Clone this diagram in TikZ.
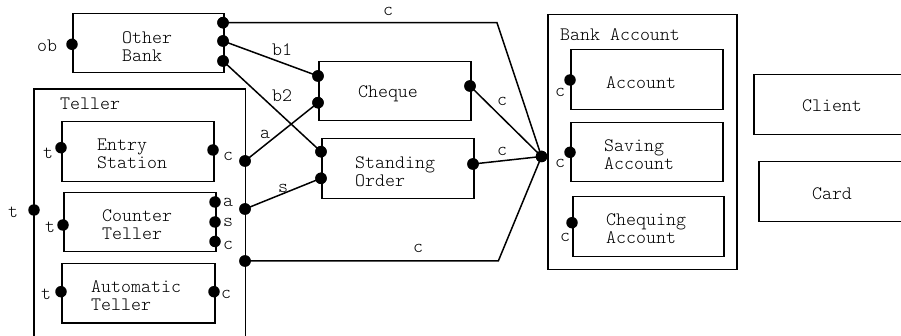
\documentclass[tikz,border=0pt]{standalone}
\usepackage{fontspec}
\setmainfont{Latin Modern Mono Light}
\begin{document}
\begin{tikzpicture}[x=1pt,y=-1pt,
  every node/.style={font=\fontsize{19}{18}\selectfont},
  box/.style={draw,line width=1.5pt,rectangle,inner sep=0pt,anchor=north west},
  port/.style={circle,fill=black,inner sep=0pt,minimum size=11.5pt},
  txt/.style={inner sep=0pt,anchor=west,align=left},
  lbl/.style={inner sep=0pt},
  wire/.style={line width=1.5pt}]
\clip (0,0) rectangle (901,336);
\useasboundingbox (0,0) rectangle (901,336);
% boxes
\node[box,minimum width=151pt,minimum height=59pt] (ob) at (72,13) {};
\node[draw=none,inner sep=0pt,anchor=north west,minimum width=211pt,minimum height=250pt] (teller) at (34,89) {};
\draw[line width=1.5pt] (teller.south west) -- (teller.north west) -- (teller.north east) -- (teller.south east);
\node[box,minimum width=152pt,minimum height=60pt] (es) at (61,121) {};
\node[box,minimum width=152pt,minimum height=59pt] (ct) at (63,192) {};
\node[box,minimum width=153pt,minimum height=59pt] (at) at (61,263) {};
\node[box,minimum width=152pt,minimum height=59pt] (cheque) at (318,61) {};
\node[box,minimum width=152pt,minimum height=60pt] (so) at (321,138) {};
\node[box,minimum width=189pt,minimum height=255pt] (ba) at (547,14) {};
\node[box,minimum width=152pt,minimum height=60pt] (acc) at (570,49) {};
\node[box,minimum width=152pt,minimum height=59pt] (sav) at (570,122) {};
\node[box,minimum width=151pt,minimum height=60pt] (chq) at (572,196) {};
\node[box,minimum width=160pt,minimum height=60pt] (client) at (753,74) {};
\node[box,minimum width=160pt,minimum height=60pt] (card) at (758,161) {};
% texts
\node[txt] (tob) at (122,47) {Other\\Bank};
\node[txt] (tteller) at (60,104) {Teller};
\node[txt] (tes) at (97,154) {Entry\\Station};
\node[txt] (tct) at (102,225) {Counter\\Teller};
\node[txt] (tat) at (91,296) {Automatic\\Teller};
\node[lbl] (tcheque) at (388,94) {Cheque};
\node[txt] (tso) at (355,172) {Standing\\Order};
\node[txt] (tba) at (560,35) {Bank Account};
\node[txt] (tacc) at (606,83) {Account};
\node[txt] (tsav) at (604,155) {Saving\\Account};
\node[txt] (tchq) at (606,229) {Chequing\\Account};
\node[lbl] (tclient) at (832,106) {Client};
\node[lbl] (tcard) at (832,194) {Card};
% ports
\node[port] (obL) at (72,44.3) {};
\node[port] (obC) at (223,22.7) {};
\node[port] (obB1) at (223,41) {};
\node[port] (obB2) at (223,61) {};
\node[port] (tellerT) at (34,210) {};
\node[port] (tellerA) at (245,161) {};
\node[port] (tellerS) at (245,209) {};
\node[port] (tellerC) at (245,261) {};
\node[port] (esT) at (61,147.7) {};
\node[port] (esC) at (213,150) {};
\node[port] (ctT) at (63,225) {};
\node[port] (ctA) at (215,202) {};
\node[port] (ctS) at (215,222) {};
\node[port] (ctC) at (215,241.5) {};
\node[port] (atT) at (61,291.7) {};
\node[port] (atC) at (214,291.7) {};
\node[port] (chB1) at (318,76) {};
\node[port] (chA) at (318,102.7) {};
\node[port] (chC) at (470,86) {};
\node[port] (soB2) at (321,151.7) {};
\node[port] (soS) at (321,178.3) {};
\node[port] (soC) at (473,164) {};
\node[port] (junc) at (541.5,156.5) {};
\node[port] (accC) at (570,80) {};
\node[port] (savC) at (570,152.3) {};
\node[port] (chqC) at (572,222.7) {};
% port labels
\node[lbl] (lob) at (47,46) {ob};
\node[lbl] (lt1) at (13,212) {t};
\node[lbl] (lt2) at (48,153) {t};
\node[lbl] (lc2) at (228,156) {c};
\node[lbl] (lt3) at (50,227) {t};
\node[lbl] (la3) at (228,202) {a};
\node[lbl] (ls3) at (228,222) {s};
\node[lbl] (lc3) at (228,245) {c};
\node[lbl] (lt4) at (46,294) {t};
\node[lbl] (lc4) at (226,294) {c};
\node[lbl] (lc5) at (560,92) {c};
\node[lbl] (lc6) at (560,163) {c};
\node[lbl] (lc7) at (565,237) {c};
% connectors
\coordinate (bendT) at (497,22.7);
\coordinate (bendB) at (498.3,261);
\draw[wire] (obC.center) -- (bendT) -- (junc.center);
\draw[wire] (obB1.center) -- (chB1.center);
\draw[wire] (obB2.center) -- (soB2.center);
\draw[wire] (tellerA.center) -- (chA.center);
\draw[wire] (tellerS.center) -- (soS.center);
\draw[wire] (chC.center) -- (junc.center);
\draw[wire] (soC.center) -- (junc.center);
\draw[wire] (tellerC.center) -- (bendB) -- (junc.center);
% connector labels
\node[lbl] (wc1) at (388,11) {c};
\node[lbl] (wb1) at (282,50) {b1};
\node[lbl] (wb2) at (282,96) {b2};
\node[lbl] (wa) at (265,134) {a};
\node[lbl] (ws) at (283,188) {s};
\node[lbl] (wc2) at (502,101) {c};
\node[lbl] (wc3) at (502,151) {c};
\node[lbl] (wc4) at (418,248) {c};
% redraw dots on top of wires
\foreach \p in {obC,obB1,obB2,tellerA,tellerS,tellerC,chB1,chA,chC,soB2,soS,soC,junc}
  \fill (\p) circle (5.75pt);
\end{tikzpicture}
\end{document}
